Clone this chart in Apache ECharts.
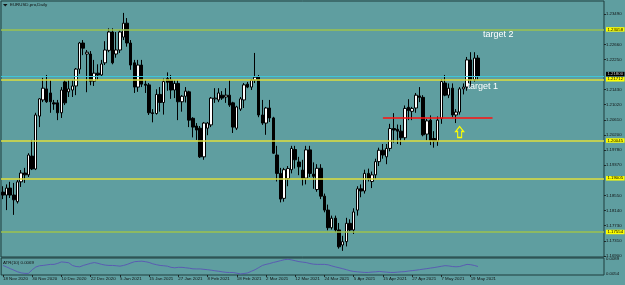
<!DOCTYPE html>
<html>
<head>
<meta charset="UTF-8">
<title>EURUSD Daily</title>
<script src="https://cdn.jsdelivr.net/npm/echarts@6.0.0/dist/echarts.min.js"></script>
<style>
  html, body { margin: 0; padding: 0; background: #5f9ea0; }
</style>
</head>
<body>
<div id="main" style="width:625px;height:285px;"></div>
<script type="text/javascript">
// daily bars from 18 Nov 2020, weekdays only, no 25 Dec / 1 Jan
const firstDay = '2020-11-18';
const holidays = ['2020-12-25', '2021-01-01'];
const emptySlots = 34; // chart shift on the right

// [open, high, low, close]
const candles = [
  [1.1864, 1.1880, 1.1845, 1.1856], [1.1856, 1.1885, 1.1815, 1.1875], [1.1875, 1.1892, 1.1848, 1.1856],
  [1.1856, 1.1889, 1.1802, 1.1843], [1.1838, 1.1897, 1.1833, 1.1892], [1.1892, 1.1924, 1.1878, 1.1916],
  [1.1916, 1.1930, 1.1889, 1.1911], [1.1911, 1.1970, 1.1905, 1.1965], [1.1962, 1.2006, 1.1924, 1.1927],
  [1.1927, 1.2080, 1.1924, 1.2074], [1.2071, 1.2120, 1.2041, 1.2118], [1.2115, 1.2175, 1.2109, 1.2147],
  [1.2145, 1.2183, 1.2107, 1.2110], [1.2134, 1.2169, 1.2080, 1.2110], [1.2107, 1.2115, 1.2088, 1.2104],
  [1.2107, 1.2115, 1.2060, 1.2080], [1.2080, 1.2150, 1.2066, 1.2142], [1.2164, 1.2169, 1.2101, 1.2107],
  [1.2137, 1.2169, 1.2123, 1.2145], [1.2142, 1.2169, 1.2123, 1.2153], [1.2153, 1.2202, 1.2128, 1.2199],
  [1.2199, 1.2273, 1.2186, 1.2270], [1.2270, 1.2278, 1.2237, 1.2256], [1.2240, 1.2251, 1.2136, 1.2245],
  [1.2240, 1.2248, 1.2155, 1.2166], [1.2166, 1.2224, 1.2153, 1.2188], [1.2188, 1.2212, 1.2170, 1.2183],
  [1.2183, 1.2224, 1.2180, 1.2213], [1.2216, 1.2275, 1.2210, 1.2251], [1.2250, 1.2310, 1.2245, 1.2300],
  [1.2300, 1.2310, 1.2212, 1.2216], [1.2240, 1.2300, 1.2230, 1.2251], [1.2251, 1.2305, 1.2243, 1.2300],
  [1.2286, 1.2352, 1.2278, 1.2324], [1.2324, 1.2338, 1.2260, 1.2270], [1.2270, 1.2278, 1.2197, 1.2210],
  [1.2216, 1.2224, 1.2134, 1.2150], [1.2150, 1.2224, 1.2137, 1.2210], [1.2210, 1.2224, 1.2150, 1.2158],
  [1.2158, 1.2169, 1.2134, 1.2155], [1.2156, 1.2161, 1.2074, 1.2080], [1.2080, 1.2090, 1.2054, 1.2078],
  [1.2078, 1.2144, 1.2075, 1.2130], [1.2130, 1.2150, 1.2083, 1.2108], [1.2108, 1.2173, 1.2075, 1.2165],
  [1.2173, 1.2190, 1.2140, 1.2163], [1.2169, 1.2183, 1.2118, 1.2142], [1.2142, 1.2169, 1.2120, 1.2160],
  [1.2160, 1.2169, 1.2060, 1.2110], [1.2110, 1.2128, 1.2083, 1.2125], [1.2125, 1.2150, 1.2108, 1.2139],
  [1.2137, 1.2140, 1.2041, 1.2060], [1.2065, 1.2068, 1.2013, 1.2041], [1.2044, 1.2052, 1.2006, 1.2033],
  [1.2038, 1.2044, 1.1957, 1.1960], [1.1960, 1.2055, 1.1952, 1.2052], [1.2038, 1.2055, 1.2019, 1.2052],
  [1.2047, 1.2123, 1.2041, 1.2120], [1.2118, 1.2147, 1.2107, 1.2120], [1.2115, 1.2147, 1.2109, 1.2134],
  [1.2128, 1.2139, 1.2115, 1.2120], [1.2123, 1.2147, 1.2107, 1.2128], [1.2128, 1.2169, 1.2096, 1.2101],
  [1.2107, 1.2110, 1.2025, 1.2041], [1.2038, 1.2099, 1.2033, 1.2096], [1.2090, 1.2123, 1.2085, 1.2118],
  [1.2115, 1.2161, 1.2093, 1.2156], [1.2158, 1.2164, 1.2147, 1.2150], [1.2150, 1.2172, 1.2142, 1.2169],
  [1.2169, 1.2243, 1.2161, 1.2177], [1.2177, 1.2183, 1.2068, 1.2074], [1.2074, 1.2115, 1.2047, 1.2052],
  [1.2052, 1.2096, 1.2020, 1.2093], [1.2093, 1.2115, 1.2055, 1.2066], [1.2066, 1.2069, 1.1968, 1.1970],
  [1.1965, 1.1990, 1.1893, 1.1915], [1.1915, 1.1930, 1.1836, 1.1845], [1.1847, 1.1930, 1.1838, 1.1925],
  [1.1901, 1.1935, 1.1880, 1.1928], [1.1925, 1.1990, 1.1915, 1.1983], [1.1980, 1.1990, 1.1928, 1.1952],
  [1.1946, 1.1960, 1.1910, 1.1933], [1.1924, 1.1952, 1.1882, 1.1902], [1.1902, 1.1990, 1.1885, 1.1979],
  [1.1979, 1.1990, 1.1905, 1.1915], [1.1913, 1.1945, 1.1873, 1.1907], [1.1871, 1.1940, 1.1865, 1.1929],
  [1.1929, 1.1940, 1.1845, 1.1853], [1.1853, 1.1860, 1.1809, 1.1815], [1.1815, 1.1830, 1.1760, 1.1767],
  [1.1767, 1.1800, 1.1762, 1.1793], [1.1793, 1.1800, 1.1755, 1.1761], [1.1761, 1.1780, 1.1710, 1.1715],
  [1.1720, 1.1745, 1.1704, 1.1729], [1.1729, 1.1794, 1.1716, 1.1779], [1.1779, 1.1790, 1.1757, 1.1761],
  [1.1761, 1.1820, 1.1750, 1.1810], [1.1815, 1.1880, 1.1800, 1.1873], [1.1873, 1.1885, 1.1850, 1.1867],
  [1.1867, 1.1925, 1.1860, 1.1915], [1.1915, 1.1928, 1.1893, 1.1900], [1.1893, 1.1920, 1.1875, 1.1911],
  [1.1911, 1.1955, 1.1900, 1.1947], [1.1947, 1.1985, 1.1935, 1.1978], [1.1978, 1.1995, 1.1955, 1.1965],
  [1.1960, 1.1995, 1.1940, 1.1983], [1.1983, 1.2050, 1.1975, 1.2037], [1.2037, 1.2079, 1.1999, 1.2033],
  [1.2035, 1.2048, 1.1995, 1.2030], [1.2030, 1.2047, 1.1992, 1.2012], [1.2012, 1.2100, 1.2005, 1.2092],
  [1.2095, 1.2117, 1.2060, 1.2086], [1.2084, 1.2096, 1.2060, 1.2092], [1.2093, 1.2134, 1.2080, 1.2128],
  [1.2126, 1.2150, 1.2109, 1.2122], [1.2122, 1.2128, 1.2016, 1.2020], [1.2022, 1.2063, 1.2005, 1.2058],
  [1.2060, 1.2073, 1.1992, 1.2005], [1.2010, 1.2030, 1.1985, 1.2003], [1.2003, 1.2070, 1.1990, 1.2060],
  [1.2065, 1.2172, 1.2050, 1.2165], [1.2161, 1.2183, 1.2125, 1.2128], [1.2128, 1.2160, 1.2120, 1.2147],
  [1.2147, 1.2160, 1.2068, 1.2074], [1.2074, 1.2090, 1.2052, 1.2082], [1.2082, 1.2150, 1.2075, 1.2145],
  [1.2145, 1.2160, 1.2130, 1.2150], [1.2150, 1.2232, 1.2140, 1.2224], [1.2224, 1.2245, 1.2151, 1.2170],
  [1.2170, 1.2245, 1.2165, 1.2229], [1.2229, 1.2237, 1.2170, 1.2180]
];

// ATR(10)
const atr = [
  0.00740, 0.00703, 0.00665, 0.00628, 0.00590, 0.00565, 0.00553, 0.00553, 0.00640, 0.00703,
  0.00733, 0.00740, 0.00753, 0.00765, 0.00765, 0.00790, 0.00823, 0.00815, 0.00803, 0.00740,
  0.00715, 0.00708, 0.00740, 0.00765, 0.00790, 0.00808, 0.00790, 0.00765, 0.00748, 0.00740,
  0.00740, 0.00733, 0.00723, 0.00740, 0.00765, 0.00798, 0.00828, 0.00835, 0.00840, 0.00828,
  0.00810, 0.00778, 0.00758, 0.00740, 0.00733, 0.00723, 0.00695, 0.00685, 0.00695, 0.00695,
  0.00685, 0.00675, 0.00660, 0.00658, 0.00658, 0.00648, 0.00640, 0.00628, 0.00615, 0.00603,
  0.00590, 0.00578, 0.00573, 0.00573, 0.00558, 0.00540, 0.00550, 0.00565, 0.00603, 0.00640,
  0.00690, 0.00740, 0.00765, 0.00785, 0.00810, 0.00830, 0.00853, 0.00875, 0.00885, 0.00870,
  0.00850, 0.00830, 0.00818, 0.00808, 0.00785, 0.00770, 0.00765, 0.00765, 0.00765, 0.00755,
  0.00728, 0.00705, 0.00685, 0.00663, 0.00640, 0.00615, 0.00598, 0.00590, 0.00583, 0.00575,
  0.00575, 0.00585, 0.00590, 0.00598, 0.00590, 0.00583, 0.00575, 0.00575, 0.00583, 0.00590,
  0.00595, 0.00608, 0.00618, 0.00628, 0.00640, 0.00653, 0.00665, 0.00678, 0.00690, 0.00705,
  0.00720, 0.00735, 0.00728, 0.00715, 0.00708, 0.00715, 0.00740, 0.00765, 0.00758, 0.00740,
  0.00715
];

const priceTicks = [1.23490, 1.22660, 1.22250, 1.21430, 1.21020, 1.20610, 1.20200,
  1.19780, 1.19370, 1.18550, 1.18140, 1.17730, 1.17310, 1.16900];
const atrTicks = [0.0089, 0.0054];
const dateLabelEvery = 8;

// drawn levels
const levels = [
  { value: 1.23070, kind: 'soft', text: '1.23058' },
  { value: 1.21712, kind: 'bright', text: '1.21712' },
  { value: 1.20045, kind: 'bright', text: '1.20045' },
  { value: 1.19016, kind: 'bright', text: '1.19005' },
  { value: 1.17554, kind: 'soft', text: '1.17554' }
];
const cyanLevel = 1.21794;
const redLevel = 1.20652;
const redFrom = 104, redTo = 134;

const FONT = '"Liberation Sans", Arial, sans-serif';
const TXT = '#111';

// category labels
const months = ['Jan','Feb','Mar','Apr','May','Jun','Jul','Aug','Sep','Oct','Nov','Dec'];
const cats = [];
let d = new Date(firstDay + 'T00:00:00Z');
while (cats.length < candles.length) {
  const iso = d.toISOString().slice(0, 10);
  const wd = d.getUTCDay();
  if (wd !== 0 && wd !== 6 && holidays.indexOf(iso) < 0) {
    cats.push(d.getUTCDate() + ' ' + months[d.getUTCMonth()] + ' ' + d.getUTCFullYear());
  }
  d = new Date(d.getTime() + 86400000);
}
for (let i = 0; i < emptySlots; i++) cats.push('');

// echarts wants [open, close, low, high]
const kData = candles.map(c => [c[0], c[3], c[2], c[1]]);
const lastClose = candles[candles.length - 1][3];

const showDate = (idx) => idx < candles.length && idx % dateLabelEvery === 0;

const levelLines = levels.map(l => ({
  yAxis: l.value,
  lineStyle: { color: l.kind === 'bright' ? '#dede3c' : '#9cc24e', width: 1.5, type: 'solid' },
  label: {
    show: true, position: 'end', distance: 2, formatter: l.text,
    backgroundColor: '#ffff00', color: '#000', fontSize: 4.3, fontFamily: FONT,
    padding: [0.5, 1.5, 0, 1.5]
  }
}));

const chart = echarts.init(document.getElementById('main'));
const option = {
  animation: false,
  backgroundColor: '#5f9ea0',
  grid: [
    { left: 1, top: 1, width: 603, height: 256, show: true, borderColor: '#1e3c3c', borderWidth: 1, backgroundColor: 'transparent' },
    { left: 1, top: 258, width: 603, height: 17, show: true, borderColor: '#1e3c3c', borderWidth: 1, backgroundColor: 'transparent' }
  ],
  xAxis: [
    {
      type: 'category', gridIndex: 0, data: cats,
      axisLine: { show: false }, axisTick: { show: false }, axisLabel: { show: false }, splitLine: { show: false }
    },
    {
      type: 'category', gridIndex: 1, data: cats,
      axisLine: { show: false },
      axisTick: { show: true, alignWithLabel: true, interval: showDate, length: 2, lineStyle: { color: TXT, width: 0.8 } },
      axisLabel: { interval: showDate, align: 'left', fontSize: 4.4, margin: 2, color: TXT, fontFamily: FONT, hideOverlap: false },
      splitLine: { show: false }
    }
  ],
  yAxis: [
    {
      type: 'value', gridIndex: 0, position: 'right', min: 1.16873, max: 1.23844,
      splitLine: { show: false }, axisLine: { show: false },
      axisTick: { show: true, customValues: priceTicks, length: 2, lineStyle: { color: TXT, width: 0.8 } },
      axisLabel: { customValues: priceTicks, formatter: v => v.toFixed(5), fontSize: 4.3, margin: 2, color: TXT, fontFamily: FONT }
    },
    {
      type: 'value', gridIndex: 1, position: 'right', min: 0.00515, max: 0.00915,
      splitLine: { show: false }, axisLine: { show: false },
      axisTick: { show: false },
      axisLabel: { customValues: atrTicks, formatter: v => v.toFixed(4), fontSize: 4.3, margin: 2, color: TXT, fontFamily: FONT }
    }
  ],
  graphic: [
    { type: 'polygon', shape: { points: [[3, 4], [7.5, 4], [5.25, 6.5]] }, style: { fill: TXT } },
    { type: 'text', left: 10, top: 3, style: { text: 'EURUSD,pro,Daily', fontSize: 4.4, fill: TXT, fontFamily: FONT } },
    { type: 'text', left: 3, top: 261, style: { text: 'ATR(10) 0.0069', fontSize: 4.4, fill: TXT, fontFamily: FONT } }
  ],
  series: [
    {
      type: 'candlestick', xAxisIndex: 0, yAxisIndex: 0, data: kData,
      barWidth: 3,
      itemStyle: { color: '#ffffff', color0: '#000000', borderColor: '#000000', borderColor0: '#000000', borderWidth: 1 },
      markLine: {
        silent: true, symbol: ['none', 'none'], animation: false, precision: 5,
        data: levelLines.concat([
          { yAxis: cyanLevel, lineStyle: { color: '#3fc6d8', width: 1.2, type: 'solid' }, label: { show: false } },
          {
            yAxis: lastClose, lineStyle: { color: 'rgba(0,0,0,0)', width: 0 },
            label: {
              show: true, position: 'end', distance: 2, offset: [0, -2], formatter: lastClose.toFixed(5),
              backgroundColor: '#000000', color: '#cccccc', fontSize: 4.3, fontFamily: FONT, padding: [0.5, 1.5, 0, 1.5]
            }
          },
          [
            { coord: [redFrom, redLevel], lineStyle: { color: '#ff1010', width: 1.6, type: 'solid' }, label: { show: false } },
            { coord: [redTo, redLevel] }
          ]
        ])
      },
      markPoint: {
        silent: true, animation: false,
        data: [
          {
            coord: [131, 1.22918], symbol: 'circle', symbolSize: 1, itemStyle: { color: 'rgba(0,0,0,0)' },
            label: { show: true, position: 'right', distance: 1, formatter: 'target 2', color: '#fff', fontSize: 9, fontFamily: FONT }
          },
          {
            coord: [127, 1.21502], symbol: 'circle', symbolSize: 1, itemStyle: { color: 'rgba(0,0,0,0)' },
            label: { show: true, position: 'right', distance: 0, formatter: 'target 1', color: '#fff', fontSize: 9, fontFamily: FONT }
          },
          {
            coord: [125, 1.20277], symbol: 'path://M4,0 L8,5 L6,5 L6,11 L2,11 L2,5 L0,5 Z', symbolSize: [8, 11],
            itemStyle: { color: 'rgba(0,0,0,0)', borderColor: '#ffff00', borderWidth: 1.2 },
            label: { show: false }
          }
        ]
      }
    },
    {
      type: 'line', xAxisIndex: 1, yAxisIndex: 1, data: atr,
      symbol: 'none', lineStyle: { color: '#5a5cb2', width: 1 }
    }
  ]
};
chart.setOption(option);
</script>
</body>
</html>
